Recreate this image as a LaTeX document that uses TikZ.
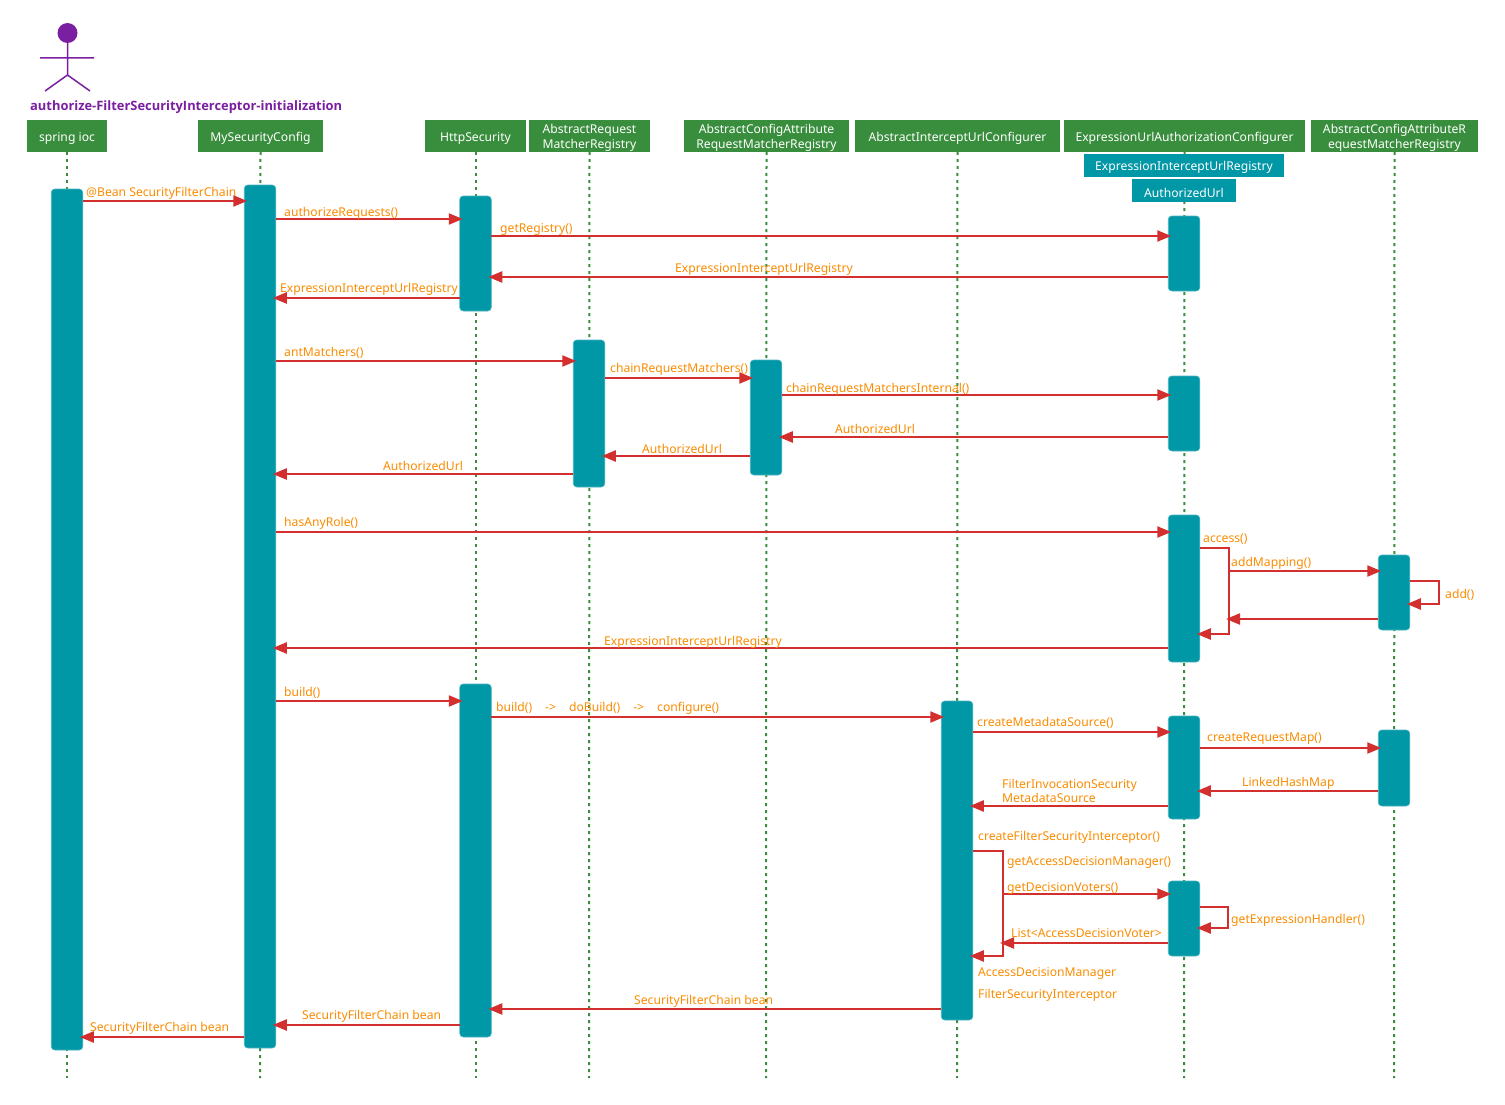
\documentclass[tikz,border=0pt]{standalone}
\usepackage{fontspec}
\setmainfont{Noto Sans}
\newfontfamily\ttlfont{Open Sans}
\usetikzlibrary{arrows.meta}
\definecolor{teal1}{HTML}{0097A7}
\definecolor{green1}{HTML}{388E3C}
\definecolor{red1}{HTML}{D32F2F}
\definecolor{purple1}{HTML}{7B1FA2}
\definecolor{orange1}{HTML}{FB8C00}
\tikzset{
  headbox/.style={fill=green1,inner sep=0pt,outer sep=0pt},
  subbox/.style={fill=teal1,inner sep=0pt,outer sep=0pt},
  headtext/.style={text=white,inner sep=0pt,align=center,font=\fontsize{12.15}{15}\selectfont},
  life/.style={green1,line width=2pt,dash pattern=on 3pt off 4pt},
  bar/.style={fill=teal1,draw=teal1!70,line width=.6pt,rounded corners=3.5pt,inner sep=0pt,outer sep=0pt,minimum width=31.5pt,anchor=north},
  msg/.style={red1,line width=2.2pt,-{Triangle[length=14pt,width=11pt]},shorten >=-3pt},
  lbl/.style={text=orange1,anchor=west,inner sep=0pt,yshift=-2pt,font=\fontsize{12.15}{15}\selectfont},
}
\newcommand\hd[7]{\node[#7,minimum width=#4*1pt-#3*1pt,minimum height=#6*1pt-#5*1pt] (#1) at ({(#3+#4)/2},{(#5+#6)/2}) {};
  \node[headtext,yshift=-2pt] (#1t) at (#1.center) {#2};}
\newcommand\lifeln[3]{\coordinate (#1e) at (#2,1078); \draw[life] (#3.south) -- (#1e);}
\newcommand\actbar[4]{\node[bar,minimum height=#4*1pt-#3*1pt] (#1) at (#2,#3) {};}
\newcommand\lbl[4]{\node[lbl] (#1) at (#2,#3) {#4};}
\newcommand\msgR[3]{\draw[msg] (#1.east |- 0,#3) -- (#2.west |- 0,#3);}
\newcommand\msgL[3]{\draw[msg] (#1.west |- 0,#3) -- (#2.east |- 0,#3);}
\begin{document}
\begin{tikzpicture}[x=1pt,y=-1pt]
\useasboundingbox (0,0) rectangle (1505,1105);
\fill[white] (0,0) rectangle (1505,1105);
% actor
\node[circle,fill=purple1,minimum size=20pt,inner sep=0pt,outer sep=0pt] (actorhead) at (67.5,33) {};
\coordinate (hip) at (67.5,75);
\coordinate (armL) at (40,58);
\coordinate (armR) at (94,58);
\coordinate (legL) at (45,91);
\coordinate (legR) at (90,91);
\draw[purple1,line width=1.5pt] (actorhead.south) -- (hip) (armL) -- (armR) (legL) -- (hip) -- (legR);
\node[text=purple1,anchor=west,inner sep=0pt,font=\ttlfont\fontsize{12.9}{15}\selectfont\bfseries] (title) at (30,107.5) {authorize-FilterSecurityInterceptor-initialization};
% headers
\hd{hA}{spring ioc}{27}{107}{120}{152}{headbox}
\hd{hB}{MySecurityConfig}{198}{323}{120}{152}{headbox}
\hd{hC}{HttpSecurity}{425}{526}{120}{152}{headbox}
\hd{hD}{AbstractRequest\\MatcherRegistry}{529}{650}{120}{152}{headbox}
\hd{hF}{AbstractConfigAttribute\\RequestMatcherRegistry}{684}{849}{120}{152}{headbox}
\hd{hG}{AbstractInterceptUrlConfigurer}{855}{1060}{120}{152}{headbox}
\hd{hE}{ExpressionUrlAuthorizationConfigurer}{1064}{1305}{120}{152}{headbox}
\hd{hR}{AbstractConfigAttributeR\\equestMatcherRegistry}{1311}{1478}{120}{152}{headbox}
% lifelines
\lifeln{A}{67}{hA}
\lifeln{B}{260}{hB}
\lifeln{C}{475.5}{hC}
\lifeln{D}{589}{hD}
\lifeln{F}{766}{hF}
\lifeln{G}{957}{hG}
\lifeln{E}{1184}{hE}
\lifeln{R}{1394}{hR}
\hd{hE2}{ExpressionInterceptUrlRegistry}{1084}{1284}{154}{177}{subbox}
\hd{hE3}{AuthorizedUrl}{1132}{1236}{179}{202}{subbox}
% activation bars
\actbar{A1}{67}{189}{1050}
\actbar{B1}{260}{185}{1048}
\actbar{C1}{475.5}{196}{311}
\actbar{C2}{475.5}{684}{1037}
\actbar{D1}{589}{340}{487}
\actbar{F1}{766}{360}{475}
\actbar{G1}{957}{701}{1020}
\actbar{E1}{1184}{216}{291}
\actbar{E2}{1184}{376}{451}
\actbar{E3}{1184}{515}{662}
\actbar{E4}{1184}{716}{819}
\actbar{E5}{1184}{881}{956}
\actbar{R1}{1394}{555}{630}
\actbar{R2}{1394}{730}{806}
% messages
\msgR{A1}{B1}{201}
\msgR{B1}{C1}{219}
\msgR{C1}{E1}{236}
\msgL{E1}{C1}{277}
\msgL{C1}{B1}{298}
\msgR{B1}{D1}{361}
\msgR{D1}{F1}{378}
\msgR{F1}{E2}{395}
\msgL{E2}{F1}{437}
\msgL{F1}{D1}{456}
\msgL{D1}{B1}{474}
\msgR{B1}{E3}{532}
\msgL{E3}{B1}{648}
\msgR{B1}{C2}{701}
\msgR{C2}{G1}{717}
\msgR{G1}{E4}{732}
\msgR{E4}{R2}{748}
\msgL{R2}{E4}{791}
\msgL{E4}{G1}{806}
\msgL{G1}{C2}{1009}
\msgL{C2}{B1}{1025}
\msgL{B1}{A1}{1037}
% self calls and inner activations
\coordinate (accessX) at (1229,548);
\coordinate (accessY) at (1229,634);
\draw[msg] (E3.east |- accessX) -- (accessX) -- (accessY) -- (E3.east |- accessY);
\coordinate (mapS) at (1229,571);
\draw[msg] (mapS) -- (R1.west |- mapS);
\coordinate (mapE) at (1229,619);
\draw[msg] (R1.west |- mapE) -- (mapE);
\coordinate (addX) at (1439,581);
\coordinate (addY) at (1439,604);
\draw[msg] (R1.east |- addX) -- (addX) -- (addY) -- (R1.east |- addY);
\coordinate (cfX) at (1003,851);
\coordinate (cfY) at (1003,956);
\draw[msg] (G1.east |- cfX) -- (cfX) -- (cfY) -- (G1.east |- cfY);
\coordinate (dvS) at (1003,894);
\draw[msg] (dvS) -- (E5.west |- dvS);
\coordinate (dvE) at (1003,943);
\draw[msg] (E5.west |- dvE) -- (dvE);
\coordinate (ehX) at (1228,907);
\coordinate (ehY) at (1228,928);
\draw[msg] (E5.east |- ehX) -- (ehX) -- (ehY) -- (E5.east |- ehY);
% labels
\lbl{l1}{86}{191}{@Bean SecurityFilterChain}
\lbl{l2}{284}{211}{authorizeRequests()}
\lbl{l3}{500}{227}{getRegistry()}
\lbl{l4}{675}{267}{ExpressionInterceptUrlRegistry}
\lbl{l5}{280}{287}{ExpressionInterceptUrlRegistry}
\lbl{l6}{284}{351}{antMatchers()}
\lbl{l7}{610}{367}{chainRequestMatchers()}
\lbl{l8}{786}{387}{chainRequestMatchersInternal()}
\lbl{l9}{835}{427}{AuthorizedUrl}
\lbl{l10}{642}{447}{AuthorizedUrl}
\lbl{l11}{383}{464}{AuthorizedUrl}
\lbl{l12}{284}{521}{hasAnyRole()}
\lbl{l13}{1203}{537}{access()}
\lbl{l14}{1231}{561}{addMapping()}
\lbl{l15}{1445}{593}{add()}
\lbl{l16}{604}{640}{ExpressionInterceptUrlRegistry}
\lbl{l17}{284}{691}{build()}
\lbl{l18}{496}{706}{build()\hspace{13pt}->\hspace{13pt}doBuild()\hspace{13pt}->\hspace{13pt}configure()}
\lbl{l19}{977}{721}{createMetadataSource()}
\lbl{l20}{1207}{737}{createRequestMap()}
\lbl{l21}{1242}{781}{LinkedHashMap}
\lbl{l22}{1002}{783.5}{FilterInvocationSecurity}
\lbl{l23}{1002}{796}{MetadataSource}
\lbl{l24}{978}{835}{createFilterSecurityInterceptor()}
\lbl{l25}{1007}{860}{getAccessDecisionManager()}
\lbl{l26}{1007}{886}{getDecisionVoters()}
\lbl{l27}{1231}{918}{getExpressionHandler()}
\lbl{l28}{1011}{931}{List<AccessDecisionVoter>}
\lbl{l29}{978}{971}{AccessDecisionManager}
\lbl{l30}{978}{993}{FilterSecurityInterceptor}
\lbl{l31}{634}{999}{SecurityFilterChain bean}
\lbl{l32}{302}{1014}{SecurityFilterChain bean}
\lbl{l33}{90}{1026}{SecurityFilterChain bean}
\end{tikzpicture}
\end{document}
